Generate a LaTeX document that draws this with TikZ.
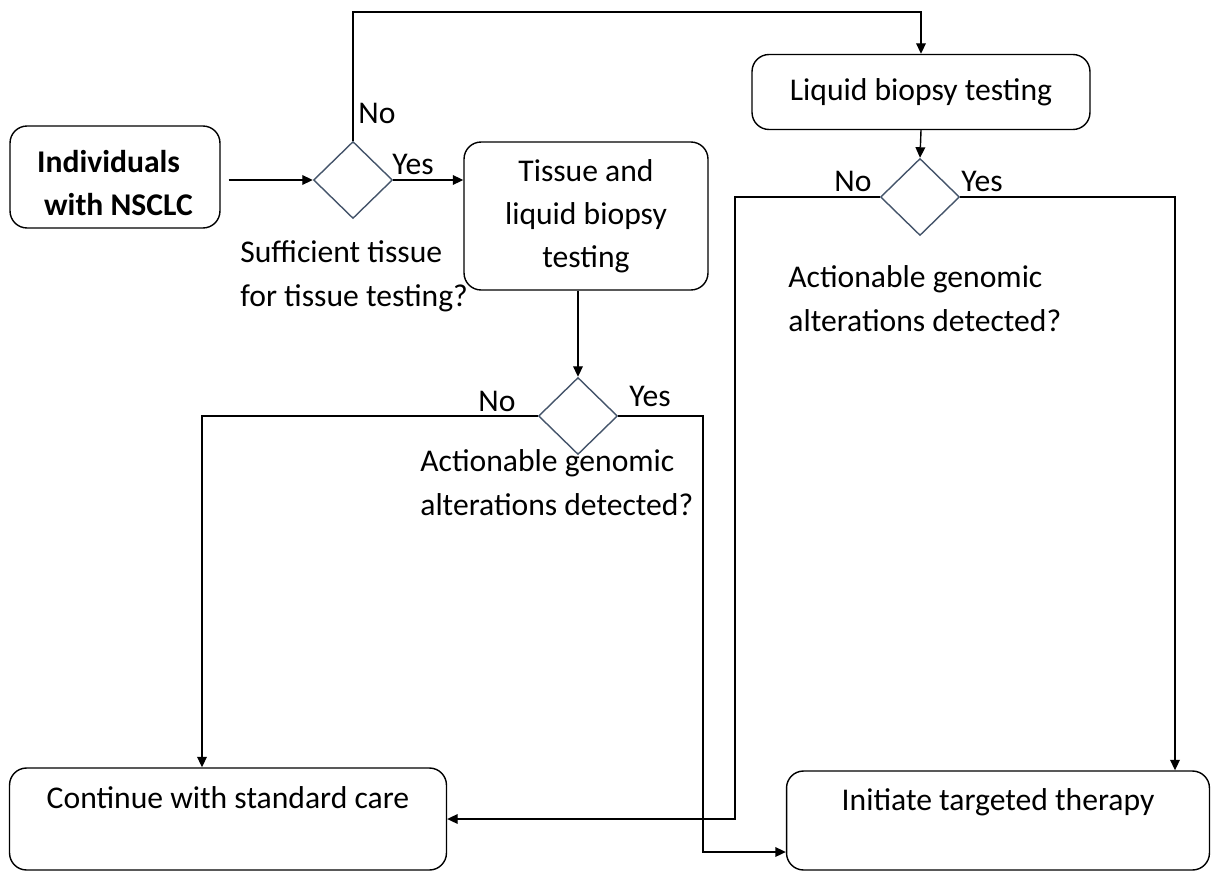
\documentclass[tikz,border=0pt]{standalone}
\usepackage{fontspec}
\setmainfont{Carlito}
\usetikzlibrary{shapes.geometric,arrows.meta}
\definecolor{diacol}{HTML}{44546A}

\begin{document}
\begin{tikzpicture}[x=0.02cm,y=-0.02cm,
    arrow/.style = {line width=0.8pt,-{Triangle[length=6pt,width=5.5pt]}},
    box/.style = {draw, line width=0.8pt, rounded corners=0.34cm, align=center, inner sep=2pt},
    decision/.style = {diamond, draw=diacol, line width=0.8pt, minimum width=1.58cm, minimum height=1.54cm, inner sep=0pt},
    every node/.style = {font=\fontsize{18}{24.5}\selectfont}]
    \useasboundingbox (0,0) rectangle (1214,872);

    % boxes
    \node [box, align=left, minimum width=4.2cm, minimum height=2.04cm, text height=1.56cm] (indiv) at (115,177) {\textbf{Individuals}\\\hspace{4pt}\textbf{with NSCLC}};
    \node [box, minimum width=4.88cm, minimum height=2.96cm] (tissue) at (586,216) {Tissue and\\liquid biopsy\\testing};
    \node [box, minimum width=6.76cm, minimum height=1.5cm] (liquid) at (921,92) {Liquid biopsy testing};
    \node [box, minimum width=8.74cm, minimum height=2.04cm, text height=0.38cm, text depth=0.8cm] (standard) at (228,819) {Continue with standard care};
    \node [box, minimum width=8.46cm, minimum height=1.98cm, text height=0.38cm, text depth=0.8cm] (targeted) at (998,820.5) {Initiate targeted therapy};

    % decisions
    \node [decision] (suff) at (353,180) {};
    \node [decision] (act1) at (578,416) {};
    \node [decision] (act2) at (920,197) {};

    % questions (base = last line)
    \node [anchor=base west, align=left, inner sep=0pt] (suffq) at (240,306) {Sufficient tissue\\for tissue testing?};
    \node [anchor=base west, align=left, inner sep=0pt] (act1q) at (420,515) {Actionable genomic\\alterations detected?};
    \node [anchor=base west, align=left, inner sep=0pt] (act2q) at (788,331) {Actionable genomic\\alterations detected?};

    % answers
    \node (noA) at (377,113) {No};
    \node (yesA) at (413,164) {Yes};
    \node (noB) at (497,401) {No};
    \node (yesB) at (650,396) {Yes};
    \node (noC) at (853,181) {No};
    \node (yesC) at (982,181) {Yes};

    \coordinate (top) at (0,12);
    \coordinate (stdx) at (202,0);
    \coordinate (tgty) at (703,852);
    \coordinate (nox) at (735,0);
    \coordinate (yesx) at (1175,0);

    \draw[arrow] (indiv.east |- suff.west) ++(8,0) -- (suff.west);
    \draw[arrow] (suff.north) -- (suff.north |- top) -| (liquid.north);
    \draw[arrow] (suff.east) -- (suff.east -| tissue.west);
    \draw[arrow] (act1.north |- tissue.south) -- (act1.north);
    \draw[arrow] (act1.west) -| (stdx |- standard.north);
    \draw[arrow] (act1.east) -| (tgty) -- (tgty -| targeted.west);
    \draw[arrow] (liquid.south) -- (act2.north);
    \draw[arrow] (act2.west) -| (nox |- standard.east) -- (standard.east);
    \draw[arrow] (act2.east) -| (yesx |- targeted.north);
\end{tikzpicture}
\end{document}
